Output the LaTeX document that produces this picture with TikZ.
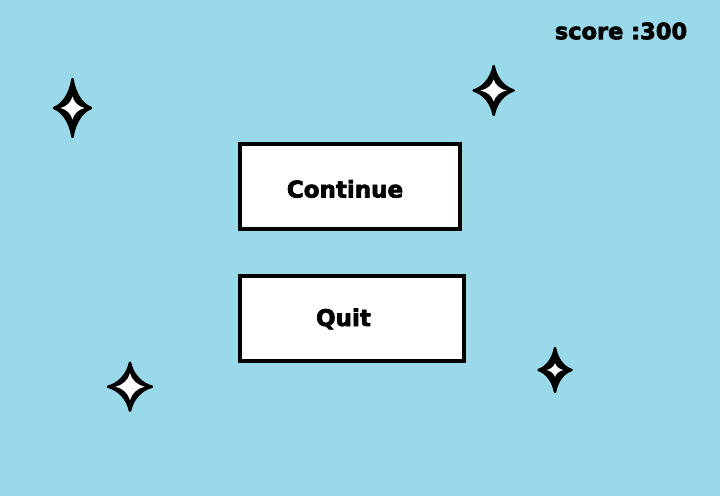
\documentclass[tikz,border=0pt]{standalone}
\usepackage{fontspec}
\setmainfont{DejaVu Sans}[BoldFeatures={FakeBold=3}]
\usepackage{tikz}

\definecolor{sky}{RGB}{153,217,234}

\newcommand{\sparklepath}{(0,1) .. controls (0.12,0.5) and (0.5,0.12) .. (1,0) .. controls (0.5,-0.12) and (0.12,-0.5) .. (0,-1) .. controls (-0.12,-0.5) and (-0.5,-0.12) .. (-1,0) .. controls (-0.5,0.12) and (-0.12,0.5) .. cycle}
% star: x, y, outer half width/height, inner half width/height
\newcommand{\sparkle}[6]{
	\begin{scope}[shift={(#1,#2)}]
		\filldraw[black, line width=2.5pt, line join=round, xscale=#3, yscale=#4] \sparklepath;
		\fill[white, xscale=#5, yscale=#6] \sparklepath;
	\end{scope}
}

\begin{document}
\begin{tikzpicture}[x=1pt,y=-1pt,
	button/.style={draw=black, fill=white, line width=4pt, minimum width=220pt, minimum height=85pt, inner sep=0pt},
	buttontext/.style={font=\fontsize{23}{27}\selectfont\bfseries, anchor=base, inner sep=0pt},
	scoretext/.style={font=\fontsize{22.5}{26}\selectfont\bfseries, inner sep=0pt}]
	\fill[sky] (0,0) rectangle (720,496);
	\useasboundingbox (0,0) rectangle (720,496);

	\node[scoretext] (score) at (621,31) {score :300};

	\node[button] (continue) at (349.75,186.5) {};
	\node[button, minimum width=224pt] (quit) at (352,318.5) {};
	\node[buttontext] (continuetext) at (345,197.5) {Continue};
	\node[buttontext] (quittext) at (343.5,326) {Quit};

	\sparkle{72.5}{108}{18.5}{29}{12}{11.5}
	\sparkle{493.7}{90.5}{20}{24.5}{13}{11}
	\sparkle{130}{386.7}{22}{24}{14.5}{13.5}
	\sparkle{555}{370}{16.5}{22}{8.5}{7}
\end{tikzpicture}
\end{document}
